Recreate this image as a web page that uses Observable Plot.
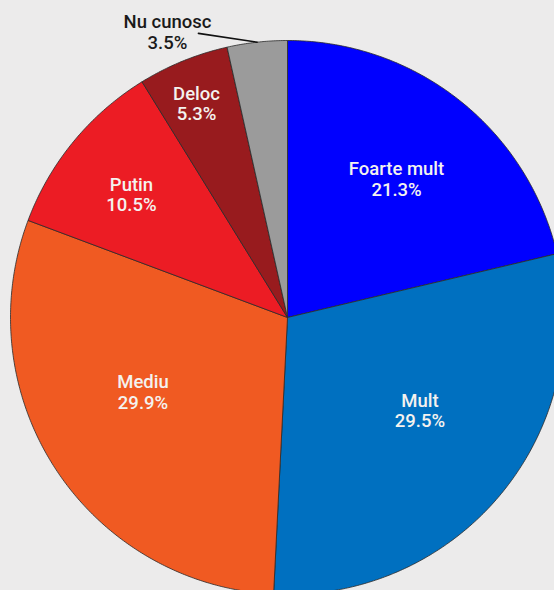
<!DOCTYPE html>
<html>
<head>
<meta charset="utf-8">
<script src="https://cdn.jsdelivr.net/npm/d3@7"></script>
<script src="https://cdn.jsdelivr.net/npm/@observablehq/plot@0.6"></script>
<style>
  html, body { margin: 0; padding: 0; background: #ecebeb; }
  #chart { width: 554px; height: 590px; overflow: hidden; }
</style>
</head>
<body>
<div id="chart"></div>
<script>
// ---- data ----
const categories = ["Foarte mult", "Mult", "Mediu", "Putin", "Deloc", "Nu cunosc"];
const values = [21.3, 29.5, 29.9, 10.5, 5.3, 3.5];
const valueLabels = ["21.3%", "29.5%", "29.9%", "10.5%", "5.3%", "3.5%"];

// ---- style / layout ----
const palette = ["#0000ff", "#0070c0", "#f05a22", "#ec1c24", "#981b1e", "#9b9b9b"];
const W = 554, H = 590, CX = 287, CY = 317, R = 277;
// label placement: radius fraction and angle nudge (deg) per slice
const labelR = [0.636, 0.584, 0.587, 0.718, 0.839, 1.118];
const labelDA = [-0.1, -4.7, 6.0, -1.1, -0.9, -16.5];

const total = d3.sum(values);
const rad = d => d * Math.PI / 180;
let acc = 0;
const slices = categories.map((c, i) => {
  const a0 = acc / total * 360;
  acc += values[i];
  const a1 = acc / total * 360;
  return {cat: c, i, a0, a1, mid: (a0 + a1) / 2};
});

const polar = (angDeg, r) => ({x: r * Math.sin(rad(angDeg)), y: r * Math.cos(rad(angDeg))});

const marks = [];
slices.forEach(s => {
  const pts = [{x: 0, y: 0}];
  const n = Math.max(4, Math.ceil((s.a1 - s.a0) * 2));
  for (let k = 0; k <= n; k++) pts.push(polar(s.a0 + (s.a1 - s.a0) * k / n, 1));
  pts.push({x: 0, y: 0});
  marks.push(Plot.line(pts, {x: "x", y: "y", fill: palette[s.i], stroke: "#2a2a2a", strokeWidth: 0.8, curve: "linear"}));
});

const inner = slices.slice(0, 5).map(s => ({
  ...polar(s.mid + labelDA[s.i], labelR[s.i]),
  text: categories[s.i] + "\n" + valueLabels[s.i]
}));
const last = slices[5];
const outer = [{...polar(last.mid + labelDA[5], labelR[5]), text: categories[5] + "\n" + valueLabels[5]}];
const leader = [polar(last.mid, 1.0), polar(342.6, 1.075)];

marks.push(Plot.line(leader, {x: "x", y: "y", stroke: "#111", strokeWidth: 1.6}));
marks.push(Plot.text(inner, {x: "x", y: "y", text: "text", fill: "#f4f2ef", fontSize: 18.5, fontWeight: 500, lineHeight: 1.1, fontFamily: "Roboto"}));
marks.push(Plot.text(outer, {x: "x", y: "y", text: "text", fill: "#1a1a1a", fontSize: 18.5, fontWeight: 500, lineHeight: 1.1, fontFamily: "Roboto"}));

const chart = Plot.plot({
  width: W, height: H,
  margin: 0,
  style: {background: "#ecebeb", overflow: "hidden"},
  x: {domain: [-CX / R, (W - CX) / R], range: [0, W], axis: null},
  y: {domain: [-(H - CY) / R, CY / R], range: [H, 0], axis: null},
  marks
});
document.getElementById("chart").appendChild(chart);
</script>
</body>
</html>
